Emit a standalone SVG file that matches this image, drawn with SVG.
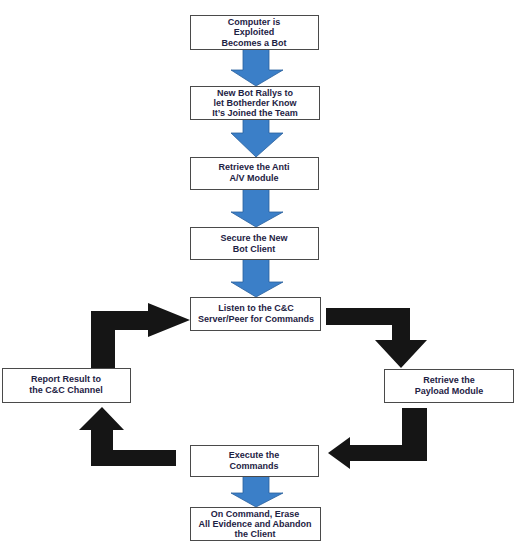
<svg xmlns="http://www.w3.org/2000/svg" width="519" height="543" viewBox="0 0 519 543">
<style>
.box{fill:#fff;stroke:#4a4a4a;stroke-width:1}
.t{font-family:"Liberation Sans",Arial,sans-serif;font-weight:bold;font-size:9px;fill:#1e2244;text-anchor:middle}
.blue{fill:#3b7fc8;stroke:#2a5f9c;stroke-width:0.8}
.blk{fill:#151515}
</style>
<rect width="519" height="543" fill="#fff"/>
<g id="connectors">
<path class="blue" d="M243,49 H269 V70 H283 L256,86 L231,70 H243 Z"/>
<path class="blue" d="M243,119 H269 V133 H283 L256,157 L231,133 H243 Z"/>
<path class="blue" d="M243,189 H269 V212 H283 L256,227 L231,212 H243 Z"/>
<path class="blue" d="M243,259 H269 V282 H283 L256,297 L231,282 H243 Z"/>
<path class="blue" d="M243,476 H269 V493 H283 L256,507 L231,493 H243 Z"/>
<path class="blk" d="M91,368 V311 H148 V303 L190,320 L148,337 V330 H115 V368 Z"/>
<path class="blk" d="M326,308 H410 V340 H427 L401,368 L375,340 H392 V325 H326 Z"/>
<path class="blk" d="M402,408 H427 V461 H350 V469 L328,453 L350,437 V445 H402 Z"/>
<path class="blk" d="M176,466 H91 V430 H79 L102,407 L124,430 H113 V450 H176 Z"/>
</g>
<g id="n1"><rect class="box" x="190.5" y="15.5" width="128" height="34"/>
<text class="t" x="254" y="25">Computer is</text><text class="t" x="254" y="35">Exploited</text><text class="t" x="254" y="45.5">Becomes a Bot</text></g>
<g id="n2"><rect class="box" x="190.5" y="86.5" width="129" height="33"/>
<text class="t" x="255" y="96">New Bot Rallys to</text><text class="t" x="255" y="106">let Botherder Know</text><text class="t" x="255" y="116">It’s Joined the Team</text></g>
<g id="n3"><rect class="box" x="190.5" y="157.5" width="128" height="32"/>
<text class="t" x="254" y="170">Retrieve the Anti</text><text class="t" x="254" y="181">A/V Module</text></g>
<g id="n4"><rect class="box" x="190.5" y="227.5" width="128" height="32"/>
<text class="t" x="254" y="241">Secure the New</text><text class="t" x="254" y="252">Bot Client</text></g>
<g id="n5"><rect class="box" x="190.5" y="297.5" width="130" height="33"/>
<text class="t" x="256" y="311">Listen to the C&amp;C</text><text class="t" x="256" y="322">Server/Peer for Commands</text></g>
<g id="n6"><rect class="box" x="384.5" y="369.5" width="129" height="33"/>
<text class="t" x="449" y="383">Retrieve the</text><text class="t" x="449" y="394">Payload Module</text></g>
<g id="n7"><rect class="box" x="190.5" y="445.5" width="128" height="31"/>
<text class="t" x="254" y="458">Execute the</text><text class="t" x="254" y="469">Commands</text></g>
<g id="n8"><rect class="box" x="190.5" y="507.5" width="130" height="33"/>
<text class="t" x="255" y="517">On Command, Erase</text><text class="t" x="255" y="527">All Evidence and Abandon</text><text class="t" x="255" y="537">the Client</text></g>
<g id="n9"><rect class="box" x="2.5" y="368.5" width="128" height="34"/>
<text class="t" x="66" y="382">Report Result to</text><text class="t" x="66" y="393">the C&amp;C Channel</text></g>
</svg>
